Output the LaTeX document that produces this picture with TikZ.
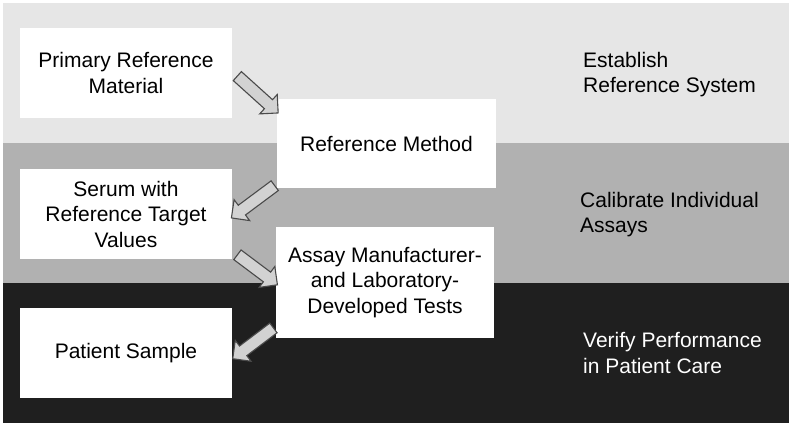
\documentclass[tikz,border=0pt]{standalone}
\usepackage{fontspec}
\setmainfont{Liberation Sans}
\usetikzlibrary{shapes.arrows}
\definecolor{bandA}{HTML}{E6E6E6}
\definecolor{bandB}{HTML}{B1B1B1}
\definecolor{bandC}{HTML}{1F1F1F}
\definecolor{arrfill}{HTML}{D2D2D2}
\definecolor{arrline}{HTML}{4A4A4A}
\begin{document}
\begin{tikzpicture}[x=1pt,y=-1pt,
  every node/.style={font=\fontsize{21pt}{25.5pt}\selectfont},
  stepbox/.style={fill=white, inner sep=0pt, align=center},
  bandlabel/.style={anchor=base west, align=left, inner sep=0pt},
  blockarrow/.style={single arrow, draw=arrline, fill=arrfill, line width=1.1pt,
    inner xsep=0pt, inner ysep=5.5pt, minimum width=26pt, single arrow head extend=7pt,
    single arrow tip angle=90, sloped, allow upside down}]
\useasboundingbox[fill=white] (0,0) rectangle (792,427);
% bands
\fill[bandA] (3,3) rectangle (789,143);
\fill[bandB] (3,143) rectangle (789,283);
\fill[bandC] (3,283) rectangle (789,423);
% boxes
\node[stepbox, minimum width=212pt, minimum height=90pt] (prim) at (126,73) {Primary Reference\\Material};
\node[stepbox, minimum width=219pt, minimum height=89pt] (refm) at (386.5,143.5) {Reference Method};
\node[stepbox, minimum width=212pt, minimum height=90pt] (serum) at (126,214) {Serum with\\Reference Target\\Values};
\node[stepbox, minimum width=218pt, minimum height=111pt] (assay) at (385,282.5) {Assay Manufacturer-\\and Laboratory-\\Developed Tests};
\node[stepbox, minimum width=212pt, minimum height=90pt] (patient) at (126,353) {Patient Sample};
% band labels (anchor at baseline of last line)
\node[bandlabel, text=black] (lab1) at (583,93) {Establish\\Reference System};
\node[bandlabel, text=black] (lab2) at (580,233) {Calibrate Individual\\Assays};
\node[bandlabel, text=white] (lab3) at (583,373) {Verify Performance\\in Patient Care};
% arrow end points
\coordinate (a1s) at (235,74);  \coordinate (a1e) at (276,111);
\coordinate (a2s) at (277,184); \coordinate (a2e) at (234,216);
\coordinate (a3s) at (235,253); \coordinate (a3e) at (275,283);
\coordinate (a4s) at (276,326); \coordinate (a4e) at (235,357);
\path (a1s) -- node[blockarrow, minimum height=55pt] (ar1) {} (a1e);
\path (a2s) -- node[blockarrow, minimum height=54pt] (ar2) {} (a2e);
\path (a3s) -- node[blockarrow, minimum height=50pt] (ar3) {} (a3e);
\path (a4s) -- node[blockarrow, minimum height=51pt] (ar4) {} (a4e);
\end{tikzpicture}
\end{document}
